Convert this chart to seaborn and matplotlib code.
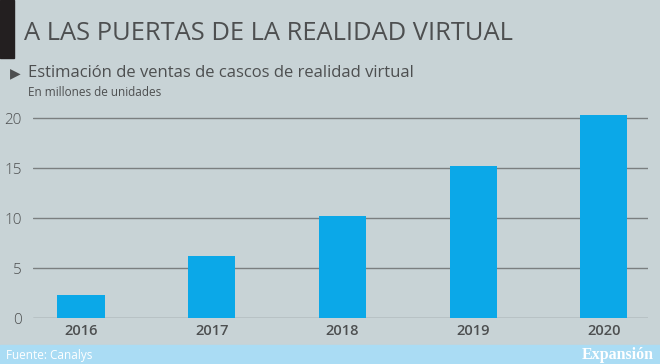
import pandas as pd
import matplotlib.pyplot as plt
import seaborn as sns

years = ["2016", "2017", "2018", "2019", "2020"]
ventas = [2.3, 6.2, 10.2, 15.2, 20.3]
yticks = [0, 5, 10, 15, 20]

bg = "#c8d3d6"
bar_color = "#0ba8e8"
text_color = "#4d4f50"

sns.set_theme(style="white")
plt.rcParams['font.family'] = ['Open Sans', 'DejaVu Sans']

df = pd.DataFrame({"year": years, "ventas": ventas})

fig = plt.figure(figsize=(6.6, 3.64), dpi=100)
fig.patch.set_facecolor(bg)

ax = fig.add_axes([33 / 660, 46 / 364, 615 / 660, 210 / 364])
ax.set_facecolor(bg)
sns.barplot(data=df, x="year", y="ventas", color=bar_color, width=0.36,
            saturation=1, linewidth=0, ax=ax, zorder=3)
ax.set_xlim(-0.367, 4.337)
ax.set_ylim(0, 21)
ax.set_yticks(yticks)
ax.set_yticklabels([str(t) for t in yticks], color=text_color, fontsize=11,
                   fontweight='light')
for t in yticks:
    ax.axhline(t, color="#7b7f80", linewidth=1.0, zorder=1)
for s in ax.spines.values():
    s.set_visible(False)
ax.tick_params(axis='y', length=0, pad=8)
ax.tick_params(axis='x', length=0, pad=4, labelsize=10.5, labelcolor=text_color)
for lab in ax.get_xticklabels():
    lab.set_fontweight('semibold')
ax.set_xlabel("")
ax.set_ylabel("")

# header
fig.patches.append(plt.Rectangle((0, 1 - 58 / 364), 14 / 660, 58 / 364,
                                 transform=fig.transFigure, color="#231f20"))
fig.text(24 / 660, 1 - 33 / 364, "A LAS PUERTAS DE LA REALIDAD VIRTUAL",
         fontsize=18.4, color=text_color, va='center', ha='left')
fig.text(10 / 660, 1 - 73 / 364, "▶", fontsize=10, color=text_color,
         va='center', ha='left', family=['DejaVu Sans'])
fig.text(28 / 660, 1 - 73 / 364, "Estimación de ventas de cascos de realidad virtual",
         fontsize=12, color=text_color, va='center', ha='left')
fig.text(28 / 660, 1 - 93 / 364, "En millones de unidades",
         fontsize=8.5, color=text_color, va='center', ha='left')

# footer
fig.patches.append(plt.Rectangle((0, 0), 1, 19 / 364, transform=fig.transFigure,
                                 color="#aadcf4"))
fig.text(6 / 660, 9 / 364, "Fuente: Canalys", fontsize=8.5, color="white",
         va='center', ha='left')
fig.text(654 / 660, 9 / 364, "Expansión", fontsize=11.5, color="white",
         va='center', ha='right', family=['Liberation Serif'], fontweight='bold')

fig.savefig("out.png", dpi=100, facecolor=bg)
